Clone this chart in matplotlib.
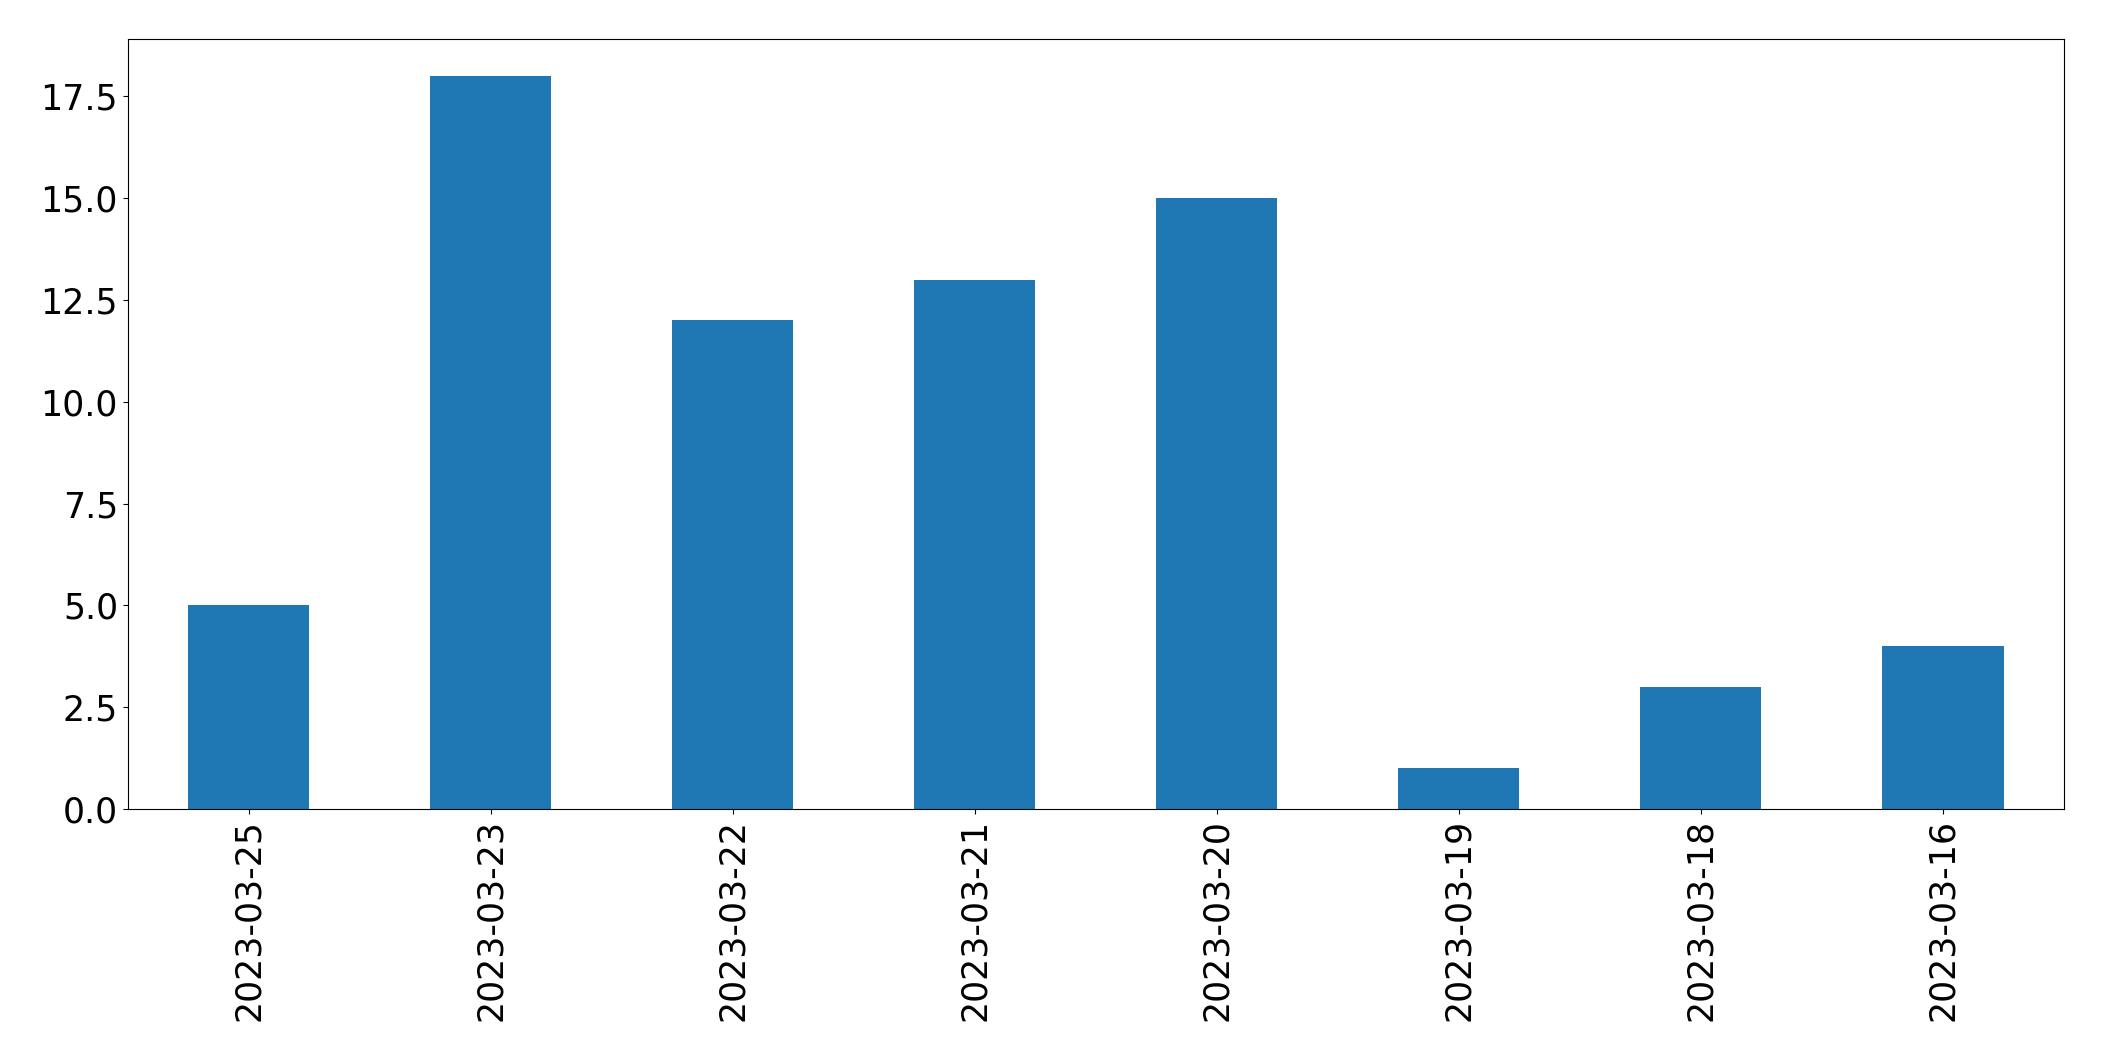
import matplotlib; matplotlib.use("Agg")
import matplotlib.pyplot as plt

dates = ["2023-03-25", "2023-03-23", "2023-03-22", "2023-03-21",
         "2023-03-20", "2023-03-19", "2023-03-18", "2023-03-16"]
counts = [5, 18, 12, 13, 15, 1, 3, 4]

fig, ax = plt.subplots(figsize=(21.04, 10.61), dpi=100)
fig.subplots_adjust(left=0.0607, right=0.981, top=0.963, bottom=0.2375)

ax.bar(range(len(dates)), counts, width=0.5, color="#1f77b4")
ax.set_xlim(-0.5, len(dates) - 0.5)
ax.set_xticks(range(len(dates)))
ax.set_xticklabels(dates, rotation=90)
ax.tick_params(labelsize=25)

fig.savefig("out.png", dpi=100)
